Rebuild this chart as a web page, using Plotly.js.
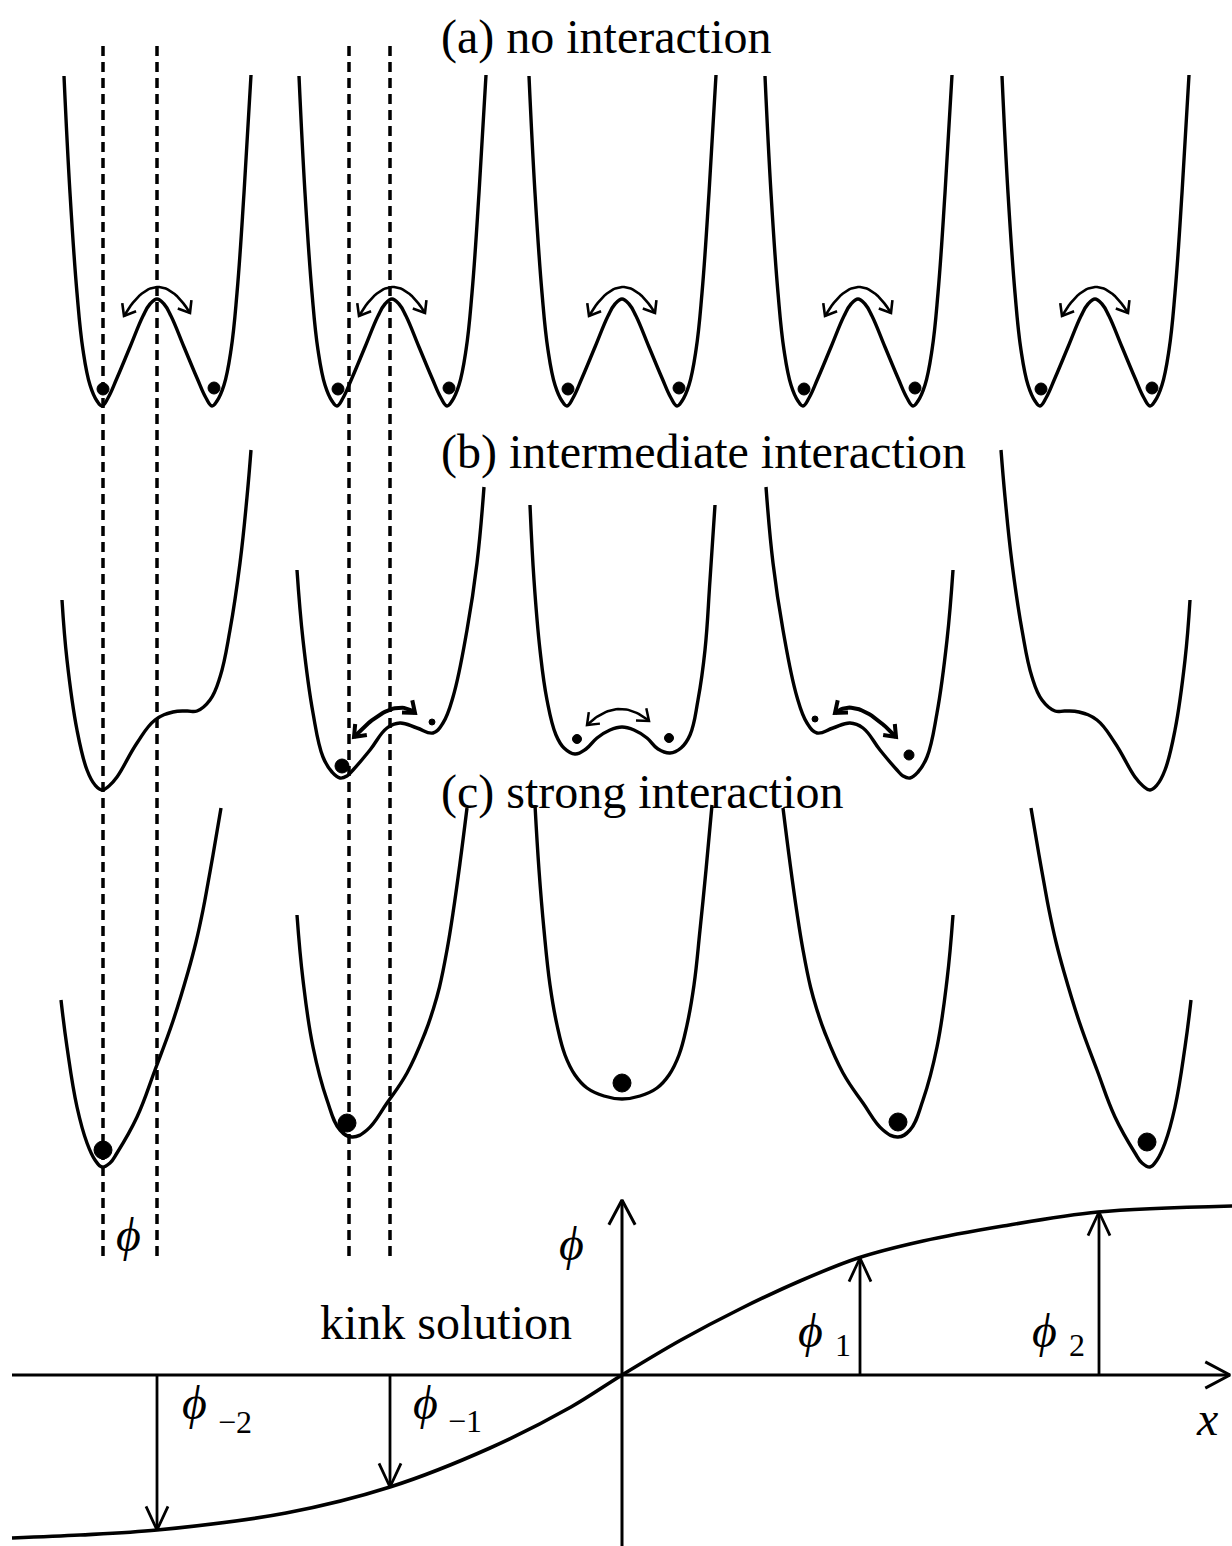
<!DOCTYPE html>
<html>
<head>
<meta charset="utf-8">
<script src="https://cdn.plot.ly/plotly-3.0.1.min.js"></script>
<style>html,body{margin:0;padding:0;background:#fff;}#chart{width:1232px;height:1546px;}</style>
</head>
<body>
<div id="chart"></div>
<script>
// ---------- data (diagram units = pixels) ----------
const wellX = [157, 392, 622, 858, 1095];           // centre of each lattice site's potential

// (a) no interaction: symmetric double well (offset u from centre, height v)
const aU = [-93,-87,-80,-74,-67,-60,-55,-49,-40,-27,-14,-7,0,7,14,27,40,49,55,60,67,74,80,87,94];
const aV = [76,193,293,350,385,401,406,398,378,347,316,304,299,304,316,347,378,398,406,401,385,350,293,193,75];
const aBallU = [-54, 57];
const aBallV = [389, 388];
const aArcU = [-33, 0, 33];
const aArcV = [316, 287, 313];

// (b) intermediate interaction: tilted double wells
const bStrongU = [-95,-90,-80,-70,-62,-55,-48,-40,-20,-2,16,30,40,53,63,73,83,90,94];
const bStrongV = [600,660,730,770,785,790,786,777,743,720,712,711,711,700,677,630,563,497,450];
const bWeakU = [-95,-89,-79,-69,-60,-52,-45,-39,-22,-5,8,25,41,51,61,75,85,92];
const bWeakV = [570,640,713,757,772,778,776,770,750,728,723,728,733,723,697,630,563,487];
const bSymU = [-92,-88,-82,-75,-66,-58,-47,-36,-25,-12,0,12,25,36,48,59,68,76,83,88,93];
const bSymV = [505,580,650,700,735,748,754,749,738,730,727,730,738,749,753,748,735,700,650,580,505];
const bProfile = ['strong','weak','sym','weak','strong'];
const bSide = [1, 1, 1, -1, -1];
const bBallX = [342, 432, 577, 669, 815, 909];
const bBallY = [766, 722, 739, 738, 719, 755];
const bBallD = [14, 6, 9, 9, 6, 10];
const bArcWell = [1, 2, 3];
const bArcU = [[-38,-3,23], [-35,-4,27], [-23,3,38]];
const bArcV = [[737,710,713], [725,709,721], [713,710,737]];
const bArcW = [4, 2.5, 4];

// (c) strong interaction: single shifted wells
const cStrongU = [-96,-90,-80,-70,-62,-55,-47,-40,-20,-2,16,31,39,46,51,56,64];
const cStrongV = [1000,1047,1107,1143,1160,1167,1163,1153,1117,1070,1021,972,942,910,883,855,808];
const cWeakU = [-95,-89,-79,-65,-52,-40,-25,-5,15,33,41,47.5,55,61,68,75];
const cWeakV = [915,980,1047,1100,1130,1137,1130,1103,1073,1033,1010,987,950,913,863,808];
const cSymU = [-87,-83,-78,-72,-65,-57,-47,-35,-18,0,18,35,47,57,65,72,78,84,90];
const cSymV = [805,870,930,985,1025,1055,1075,1088,1096,1099,1096,1088,1075,1055,1025,985,930,870,805];
const cProfile = ['strong','weak','sym','weak','strong'];
const cSide = [1, 1, 1, -1, -1];
const cBallU = [-54, -45, 0, 40, 52];
const cBallV = [1150, 1123, 1083, 1122, 1142];

// dashed guide lines
const dashX = [103, 157, 349, 390];
const dashTop = 46, dashBottom = 1258;

// kink solution
const kinkX = [12, 80, 157, 286, 390, 490, 571, 622, 681, 740, 800, 858, 923, 1003, 1098, 1232];
const kinkY = [1538, 1535, 1530, 1513, 1487, 1448, 1407, 1375, 1340, 1309, 1281, 1258, 1241, 1226, 1212, 1206];
const siteX = [157, 390, 860, 1099];
const siteY = [1530, 1487, 1258, 1212];
const axisY = 1375, axisX = 622;
const axisLeft = 12, axisRight = 1230, axisTop = 1200, axisBottom = 1546;

// labels
const titles = ['(a) no interaction', '(b) intermediate interaction', '(c) strong interaction'];
const titleY = [37, 452, 792];
const titleX = 439;

// ---------- build ----------
const traces = [];
const LW = 3.4;
function line(x, y, w, extra) {
  traces.push(Object.assign({type:'scatter', mode:'lines', x:x, y:y,
    line:{color:'#000', width:w, shape:'linear'}, hoverinfo:'skip'}, extra||{}));
}
function curve(x, y, w, sm) {
  traces.push({type:'scatter', mode:'lines', x:x, y:y,
    line:{color:'#000', width:w, shape:'spline', smoothing:sm || 1.2}, hoverinfo:'skip'});
}
function head(tx, ty, dx, dy, L, ang, w) {
  const n = Math.hypot(dx, dy); dx /= n; dy /= n;
  const a = ang * Math.PI / 180;
  const r1 = [dx*Math.cos(a) - dy*Math.sin(a), dx*Math.sin(a) + dy*Math.cos(a)];
  const r2 = [dx*Math.cos(-a) - dy*Math.sin(-a), dx*Math.sin(-a) + dy*Math.cos(-a)];
  line([tx - L*r1[0], tx, tx - L*r2[0]], [ty - L*r1[1], ty, ty - L*r2[1]], w);
}
function arc(xs, ys, w) {
  const p0 = [xs[0], ys[0]], m = [xs[1], ys[1]], p2 = [xs[2], ys[2]];
  const c = [2*m[0] - (p0[0]+p2[0])/2, 2*m[1] - (p0[1]+p2[1])/2];
  const X = [], Y = [];
  for (let i = 0; i <= 30; i++) {
    const t = i/30, s = 1-t;
    X.push(s*s*p0[0] + 2*s*t*c[0] + t*t*p2[0]);
    Y.push(s*s*p0[1] + 2*s*t*c[1] + t*t*p2[1]);
  }
  line(X, Y, w);
  head(p0[0], p0[1], p0[0]-c[0], p0[1]-c[1], 13, 38, w);
  head(p2[0], p2[1], p2[0]-c[0], p2[1]-c[1], 13, 38, w);
}
function profile(U, V, cx, side) {
  curve(U.map(u => cx + side*u), V, LW);
}

// dashed lines
dashX.forEach(x => line([x, x], [dashTop, dashBottom], 3.5, {line:{color:'#000', width:3.5, dash:'10px,6px'}}));

// row (a)
wellX.forEach(cx => {
  profile(aU, aV, cx, 1);
  arc(aArcU.map(u => cx + u), aArcV, 2.6);
});
const ballX = [], ballY = [], ballS = [];
wellX.forEach(cx => aBallU.forEach((u, j) => { ballX.push(cx + u); ballY.push(aBallV[j]); ballS.push(12); }));

// row (b)
const bU = {strong:bStrongU, weak:bWeakU, sym:bSymU};
const bV = {strong:bStrongV, weak:bWeakV, sym:bSymV};
wellX.forEach((cx, i) => profile(bU[bProfile[i]], bV[bProfile[i]], cx, bSide[i]));
bArcWell.forEach((wi, k) => arc(bArcU[k].map(u => wellX[wi] + u), bArcV[k], bArcW[k]));
bBallX.forEach((x, j) => { ballX.push(x); ballY.push(bBallY[j]); ballS.push(bBallD[j]); });

// row (c)
const cU = {strong:cStrongU, weak:cWeakU, sym:cSymU};
const cV = {strong:cStrongV, weak:cWeakV, sym:cSymV};
wellX.forEach((cx, i) => {
  profile(cU[cProfile[i]], cV[cProfile[i]], cx, cSide[i]);
  ballX.push(cx + cBallU[i]); ballY.push(cBallV[i]); ballS.push(18);
});

traces.push({type:'scatter', mode:'markers', x:ballX, y:ballY, opacity:1,
  marker:{color:'rgb(0,0,0)', size:ballS, opacity:1, line:{width:1, color:'rgb(0,0,0)'}}, hoverinfo:'skip'});

// kink solution
line([axisLeft, axisRight], [axisY, axisY], 3);
head(axisRight, axisY, 1, 0, 28, 28, 3);
line([axisX, axisX], [axisBottom, axisTop], 3);
head(axisX, axisTop, 0, -1, 28, 28, 3);
curve(kinkX, kinkY, 3.6, 0.9);
siteX.forEach((x, i) => {
  line([x, x], [axisY, siteY[i]], 2.8);
  head(x, siteY[i], 0, siteY[i] > axisY ? 1 : -1, 26, 25, 2.8);
});

const SERIF = 'Liberation Serif, Times New Roman, DejaVu Serif, serif';
const ann = [];
titles.forEach((t, i) => ann.push({x:titleX, y:titleY[i], text:t, xanchor:'left', yanchor:'middle'}));
ann.push({x:446, y:1322, text:'kink solution', xanchor:'center', yanchor:'middle'});
const phi = '<i>\u03D5</i>';
ann.push({x:128, y:1234, text:phi, xanchor:'center', yanchor:'middle'});
ann.push({x:571, y:1243, text:phi, xanchor:'center', yanchor:'middle'});
ann.push({x:194, y:1402, text:phi, xanchor:'center', yanchor:'middle'});
ann.push({x:235, y:1422, text:'\u22122', xanchor:'center', yanchor:'middle', font:{size:32}});
ann.push({x:425, y:1402, text:phi, xanchor:'center', yanchor:'middle'});
ann.push({x:465, y:1421, text:'\u22121', xanchor:'center', yanchor:'middle', font:{size:32}});
ann.push({x:810, y:1330, text:phi, xanchor:'center', yanchor:'middle'});
ann.push({x:843, y:1345, text:'1', xanchor:'center', yanchor:'middle', font:{size:32}});
ann.push({x:1044, y:1330, text:phi, xanchor:'center', yanchor:'middle'});
ann.push({x:1077, y:1345, text:'2', xanchor:'center', yanchor:'middle', font:{size:32}});
ann.push({x:1207, y:1418, text:'<i>x</i>', xanchor:'center', yanchor:'middle'});
ann.forEach(a => {
  a.xref = 'x'; a.yref = 'y'; a.showarrow = false;
  a.font = Object.assign({family:SERIF, size:48, color:'#000'}, a.font || {});
  a.font.family = SERIF;
});

const layout = {
  width:1232, height:1546,
  margin:{l:0, r:0, t:0, b:0},
  xaxis:{range:[0, 1232], visible:false, fixedrange:true},
  yaxis:{range:[1546, 0], visible:false, fixedrange:true},
  showlegend:false,
  paper_bgcolor:'#fff', plot_bgcolor:'#fff',
  annotations:ann
};
Plotly.newPlot('chart', traces, layout, {staticPlot:true, displayModeBar:false});
</script>
</body>
</html>
